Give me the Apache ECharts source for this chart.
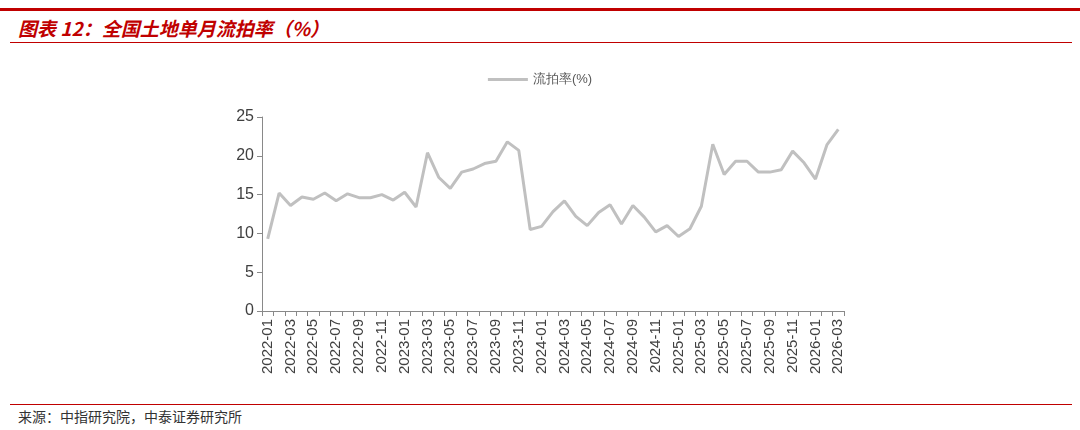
<!DOCTYPE html>
<html>
<head>
<meta charset="utf-8">
<script src="https://cdn.jsdelivr.net/npm/echarts@6/dist/echarts.min.js"></script>
<style>
body{margin:0;background:#fff;font-family:"Noto Sans CJK SC",sans-serif;}
#top{position:absolute;left:0;top:8px;width:1080px;border-top:3px solid #c00000;}
#title{position:absolute;left:18px;top:14px;color:#c00000;font-size:19px;font-weight:bold;font-style:italic;}
#hr1{position:absolute;left:10px;top:42px;width:1062px;border-top:1px solid #c00000;}
#hr2{position:absolute;left:10px;top:404px;width:1062px;border-top:1px solid #c00000;}
#src{position:absolute;left:18px;top:406px;font-size:14px;color:#333;}
#chart{position:absolute;left:0;top:44px;width:1080px;height:358px;}
</style>
</head>
<body>
<div id="top"></div>
<div id="title">图表 12：全国土地单月流拍率（%）</div>
<div id="hr1"></div>
<div id="chart"></div>
<div id="hr2"></div>
<div id="src">来源：中指研究院，中泰证券研究所</div>
<script>
// 月份
var months = [];
for (var y = 2022; y <= 2026; y++) {
    for (var m = 1; m <= 12; m++) {
        if (y == 2026 && m > 3) break;
        months.push(y + '-' + (m < 10 ? '0' + m : m));
    }
}
// 流拍率
var rate = [9.3,15.2,13.6,14.7,14.4,15.2,14.2,15.1,14.6,14.6,15.0,14.3,
    15.3,13.4,20.4,17.2,15.8,17.9,18.3,19.0,19.3,21.8,20.7,10.5,
    10.9,12.8,14.2,12.2,11.0,12.7,13.7,11.2,13.6,12.1,10.2,11.0,
    9.6,10.6,13.5,21.5,17.6,19.3,19.3,17.9,17.9,18.2,20.6,19.1,
    17.0,21.4,23.4];

var myChart = echarts.init(document.getElementById('chart'));
var option = {
    animation: false,
    legend: {
        data: ['流拍率(%)'],
        top: 24,
        left: 'center',
        itemWidth: 40,
        icon: 'rect',
        itemHeight: 3,
        textStyle: {color: '#595959', fontSize: 13}
    },
    grid: {left: 262, right: 236, top: 73, bottom: 91},
    xAxis: {
        type: 'category',
        data: months,
        boundaryGap: true,
        axisLine: {lineStyle: {color: '#898989'}},
        axisTick: {show: true, interval: 0, lineStyle: {color: '#898989'}},
        axisLabel: {rotate: 90, interval: 1, color: '#404040', fontSize: 15, fontFamily: 'Liberation Sans'}
    },
    yAxis: {
        type: 'value',
        min: 0, max: 25, interval: 5,
        splitLine: {show: false},
        axisLine: {show: true, lineStyle: {color: '#898989'}},
        axisTick: {show: true, lineStyle: {color: '#898989'}},
        axisLabel: {color: '#404040', fontSize: 16, fontFamily: 'Liberation Sans'}
    },
    series: [{
        name: '流拍率(%)',
        type: 'line',
        data: rate,
        symbol: 'none',
        lineStyle: {width: 3, color: '#c0c0c0'},
        itemStyle: {color: '#c0c0c0'}
    }]
};
myChart.setOption(option);
</script>
</body>
</html>
